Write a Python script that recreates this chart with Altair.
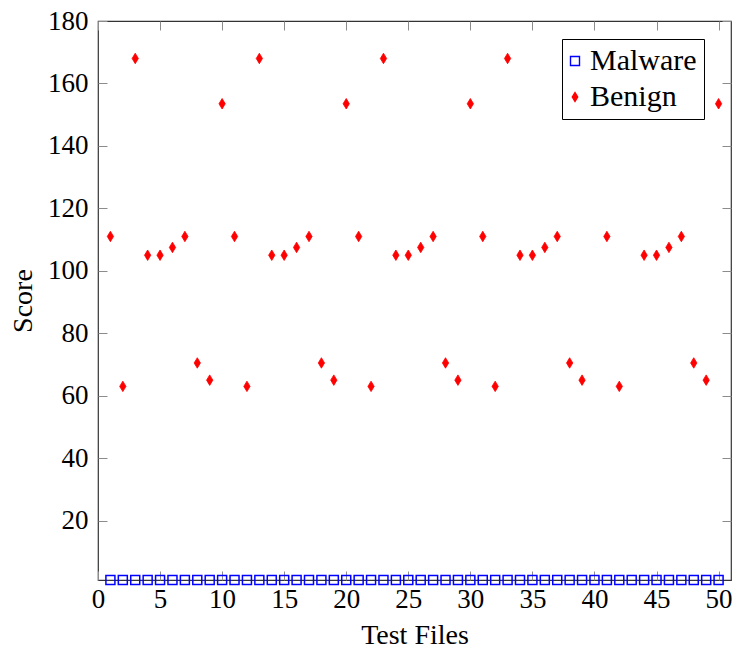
import altair as alt
import pandas as pd

# ---------------- data ----------------
test_files = list(range(1, 51))
malware_scores = [1, 1, 1, 1, 1, 1, 1, 1, 1, 1,
                  1, 1, 1, 1, 1, 1, 1, 1, 1, 1,
                  1, 1, 1, 1, 1, 1, 1, 1, 1, 1,
                  1, 1, 1, 1, 1, 1, 1, 1, 1, 1,
                  1, 1, 1, 1, 1, 1, 1, 1, 1, 1]
benign_scores = [111, 63, 168, 105, 105, 107.5, 111, 70.5, 65, 153.5,
                 111, 63, 168, 105, 105, 107.5, 111, 70.5, 65, 153.5,
                 111, 63, 168, 105, 105, 107.5, 111, 70.5, 65, 153.5,
                 111, 63, 168, 105, 105, 107.5, 111, 70.5, 65, 153.5,
                 111, 63, 168, 105, 105, 107.5, 111, 70.5, 65, 153.5]
series_names = ["Malware", "Benign"]
x_ticks = [0, 5, 10, 15, 20, 25, 30, 35, 40, 45, 50]
y_ticks = [20, 40, 60, 80, 100, 120, 140, 160, 180]

df = pd.DataFrame({
    "file": test_files + test_files,
    "score": malware_scores + benign_scores,
    "series": ["Malware"] * len(test_files) + ["Benign"] * len(test_files),
})

FONT = "Liberation Serif"
DIAMOND = "M0,-1L0.6,0L0,1L-0.6,0Z"
TICK_COLOR = "#8c8c8c"

W, H = 633, 559

xscale = alt.Scale(domain=[0, 51], nice=False, zero=False)
yscale = alt.Scale(domain=[1, 180], nice=False, zero=False)

shape_scale = alt.Scale(domain=series_names, range=["square", DIAMOND])
fill_scale = alt.Scale(domain=series_names, range=["transparent", "#ff0000"])
stroke_scale = alt.Scale(domain=series_names, range=["#0000ff", "#ff0000"])

legend = alt.Legend(
    title=None, orient="none", legendX=464, legendY=18,
    padding=7, strokeColor="#000000", fillColor="white",
    cornerRadius=0,
    labelFont=FONT, labelFontSize=30, labelColor="black",
    labelOffset=0, labelLimit=0, symbolOffset=-9,
    labelExpr="datum.label + '   \u2009'",
    symbolSize=81, symbolStrokeWidth=1.4, rowPadding=6,
)

enc_series = dict(
    shape=alt.Shape("series:N", scale=shape_scale, legend=legend),
    fill=alt.Fill("series:N", scale=fill_scale, legend=legend),
    stroke=alt.Stroke("series:N", scale=stroke_scale, legend=legend),
)

axis_bottom = alt.Axis(
    values=x_ticks, offset=-9, tickSize=9, tickColor=TICK_COLOR, tickWidth=1,
    domain=False, grid=False, format="d",
    labelFont=FONT, labelFontSize=27, labelColor="black",
    labelPadding=27, labelBaseline="alphabetic", labelFlush=False,
    labelOverlap=False, labelBound=False,
    titleFont=FONT, titleFontSize=28, titleFontWeight="normal", titleColor="black",
    titleX=W / 2, titleY=72, titleAlign="center", titleBaseline="alphabetic",
)
axis_left = alt.Axis(
    values=y_ticks, offset=-9, tickSize=9, tickColor=TICK_COLOR, tickWidth=1,
    domain=False, grid=False, format="d",
    labelFont=FONT, labelFontSize=27, labelColor="black",
    labelPadding=10, labelBaseline="middle", labelAlign="right",
    labelOverlap=False, labelBound=False, labelFlush=False,
    titleFont=FONT, titleFontSize=28, titleFontWeight="normal", titleColor="black",
    titleAngle=270, titleX=-76, titleY=H / 2, titleAlign="center",
    titleBaseline="alphabetic",
)
axis_top = alt.Axis(
    orient="top", values=x_ticks, offset=-9, tickSize=9, tickColor=TICK_COLOR,
    tickWidth=1, domain=False, grid=False, labels=False,
)
axis_right = alt.Axis(
    orient="right", values=y_ticks, offset=-9, tickSize=9, tickColor=TICK_COLOR,
    tickWidth=1, domain=False, grid=False, labels=False,
)

base = alt.Chart(df)

malware_layer = base.transform_filter(
    alt.datum.series == "Malware"
).mark_point(size=81, strokeWidth=1.5, opacity=1).encode(
    x=alt.X("file:Q", scale=xscale, axis=axis_bottom, title="Test Files"),
    y=alt.Y("score:Q", scale=yscale, axis=axis_left, title="Score"),
    **enc_series,
)

benign_layer = base.transform_filter(
    alt.datum.series == "Benign"
).mark_point(size=110, strokeWidth=0.8, opacity=1).encode(
    x=alt.X("file:Q", scale=xscale, axis=axis_top, title=None),
    y=alt.Y("score:Q", scale=yscale, axis=axis_right, title=None),
    **enc_series,
)

chart = alt.layer(malware_layer, benign_layer).resolve_axis(
    x="independent", y="independent"
).properties(
    width=W, height=H,
    autosize=alt.AutoSizeParams(type="none"),
    padding={"left": 98, "top": 21, "right": 5, "bottom": 68},
    background="white",
).configure_view(
    stroke="#333333", strokeWidth=1.2
).configure_legend(
    strokeWidth=1
)

chart.save("out.html", embed_options={"renderer": "svg", "actions": False})
